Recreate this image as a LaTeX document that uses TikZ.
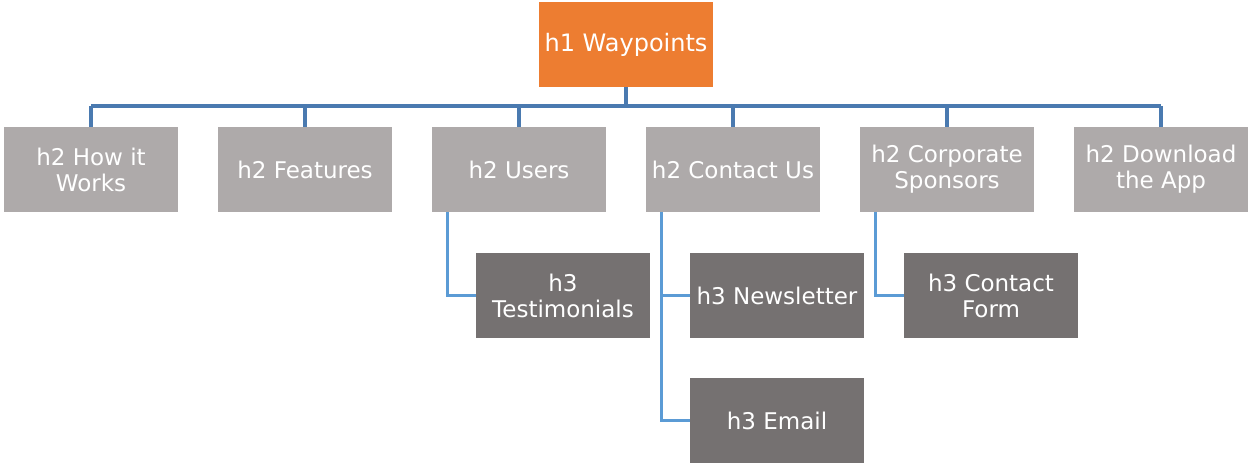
\documentclass[tikz,border=0pt]{standalone}
\usepackage{fontspec}
\setmainfont{DejaVu Sans}
\definecolor{orangebox}{HTML}{ED7D31}
\definecolor{lightgraybox}{HTML}{AEAAAA}
\definecolor{darkgraybox}{HTML}{757171}
\definecolor{busblue}{HTML}{4A7AB0}
\definecolor{linkblue}{HTML}{5B9BD5}
\begin{document}
\begin{tikzpicture}[x=1pt,y=-1pt,
  box/.style={minimum width=174pt,minimum height=85pt,inner sep=0pt,text=white,align=center,
    font=\fontsize{23}{26}\selectfont},
  h1box/.style={box,fill=orangebox,font=\fontsize{24}{27}\selectfont},
  h2box/.style={box,fill=lightgraybox},
  h3box/.style={box,fill=darkgraybox},
  bus/.style={draw=busblue,line width=3.5pt},
  link/.style={draw=linkblue,line width=3pt}]
\useasboundingbox (0,0) rectangle (1248,463);
\node[h1box] (h1) at (626,44.5) {h1 Waypoints};
\node[h2box] (a) at (91,169.5) {h2 How it\\Works};
\node[h2box] (b) at (305,169.5) {h2 Features};
\node[h2box] (c) at (519,169.5) {h2 Users};
\node[h2box] (d) at (733,169.5) {h2 Contact Us};
\node[h2box] (e) at (947,169.5) {h2 Corporate\\Sponsors};
\node[h2box] (f) at (1161,169.5) {h2 Download\\the App};
\node[h3box] (test) at (563,295.5) {h3\\Testimonials};
\node[h3box] (news) at (777,295.5) {h3 Newsletter};
\node[h3box] (form) at (991,295.5) {h3 Contact\\Form};
\node[h3box] (email) at (777,420.5) {h3 Email};
\coordinate (busy) at (0,106);
\draw[bus] (h1.south) -- (h1.south |- busy);
\draw[bus] (a.north |- busy) -- (f.north |- busy);
\foreach \n in {a,b,c,d,e,f} \draw[bus] (\n.north |- busy) -- (\n.north);
\draw[link] ([xshift=16pt]c.south west) |- (test.west);
\draw[link] ([xshift=16pt]d.south west) |- (email.west);
\draw[link] ([xshift=16pt]d.south west |- news.west) -- (news.west);
\draw[link] ([xshift=16pt]e.south west) |- (form.west);
\end{tikzpicture}
\end{document}
